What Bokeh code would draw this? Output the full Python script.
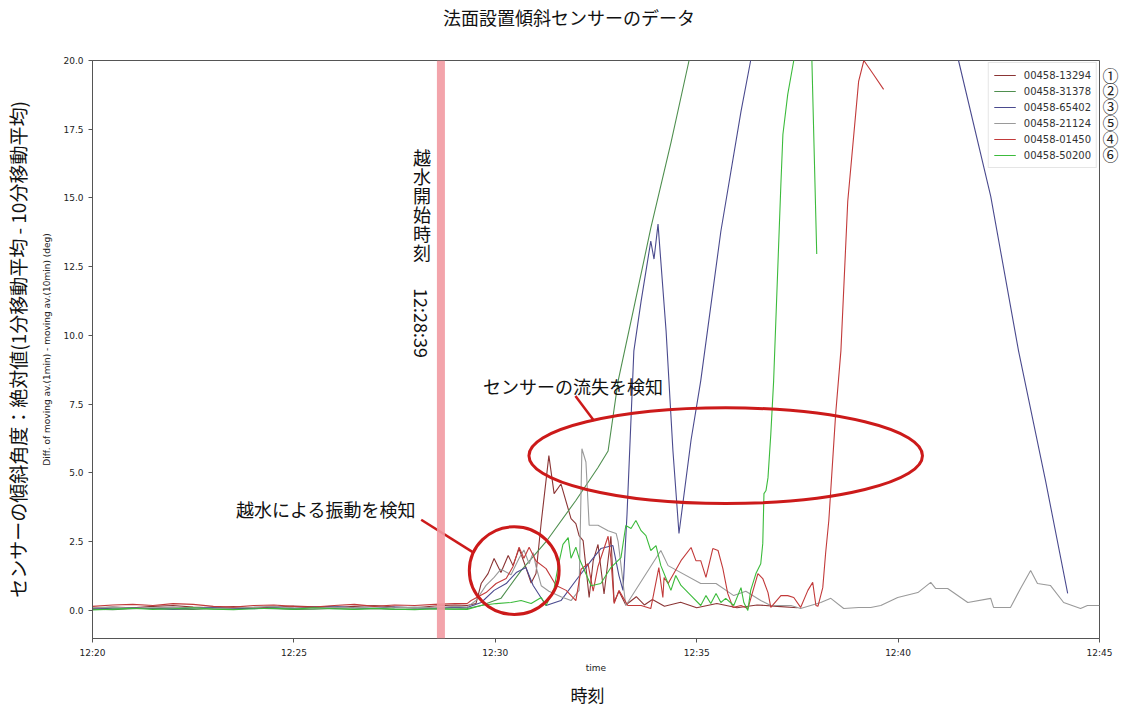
from bokeh.plotting import figure
from bokeh.models import Range1d, FixedTicker, NumeralTickFormatter, Span, Label, Legend, LinearAxis
from bokeh.embed import file_html
from bokeh.resources import INLINE
import math

# ---- data (minutes after 12:20) ----
FLAT_T = [0.0, 0.5, 1.0, 1.5, 2.0, 2.5, 3.0, 3.5, 4.0, 4.5, 5.0, 5.5, 6.0, 6.5, 7.0, 7.5, 8.0, 8.5, 9.0]

s13294_flat = [0.08, 0.12, 0.10, 0.15, 0.18, 0.12, 0.10, 0.14, 0.09, 0.12, 0.16, 0.13, 0.10, 0.15, 0.18, 0.12, 0.10, 0.16, 0.20]
s13294_t = [9.3, 9.52, 9.65, 9.82, 9.97, 10.14, 10.32, 10.44, 10.59, 10.76, 10.89, 11.01, 11.14, 11.33, 11.46, 11.63,
            11.88, 12.00, 12.08, 12.18, 12.33, 12.43, 12.55, 12.70, 12.87, 12.95, 13.07, 13.24, 13.5, 13.7, 13.9, 14.2,
            14.6, 15.0, 15.5, 16.0, 16.5, 17.0, 17.5]
s13294_v = [0.18, 0.25, 0.98, 1.34, 1.89, 1.38, 2.00, 1.63, 2.25, 1.56, 1.00, 1.34, 3.2, 5.63, 4.25, 4.6,
            3.34, 3.16, 2.72, 2.54, 0.47, 1.8, 2.4, 0.6, 2.7, 0.3, 0.7, 0.2, 0.5, 0.2, 0.4, 0.15,
            0.3, 0.1, 0.25, 0.1, 0.2, 0.15, 0.1]

s31378_flat = [0.05, 0.03, 0.06, 0.08, 0.05, 0.04, 0.06, 0.05, 0.08, 0.06, 0.04, 0.05, 0.07, 0.05, 0.06, 0.04, 0.05, 0.06, 0.05]
s31378_t = [9.3, 9.65, 10.14, 10.64, 11.26, 12.00, 12.55, 12.80, 13.05, 13.44, 13.86, 14.36, 14.81, 15.0]
s31378_v = [0.07, 0.18, 0.44, 1.45, 2.5, 4.0, 5.2, 5.8, 8.35, 11.0, 13.9, 17.0, 20.0, 26.0]

s65402_flat = [0.05, 0.08, 0.10, 0.06, 0.05, 0.09, 0.12, 0.08, 0.06, 0.10, 0.08, 0.12, 0.15, 0.10, 0.08, 0.12, 0.10, 0.08, 0.12]
s65402_t = [9.3, 9.65, 9.97, 10.27, 10.52, 10.76, 10.94, 11.26, 11.63, 12.00, 12.38, 12.62, 12.92, 13.07, 13.17,
            13.27, 13.44, 13.62, 13.86, 13.94, 14.04, 14.24, 14.41, 14.56, 14.86, 15.10, 15.60, 16.10, 16.34, 16.5,
            21.3, 21.50, 22.30, 22.99, 23.66, 24.21]
s65402_v = [0.11, 0.29, 0.73, 0.98, 1.38, 1.56, 0.91, 0.18, 0.36, 1.09, 1.81, 2.25, 2.36, 1.27, 0.73,
            3.5, 9.44, 11.25, 13.43, 12.78, 14.05, 10.16, 5.81, 2.8, 6.2, 8.35, 13.79, 18.15, 20.0, 28.0,
            28.0, 20.0, 15.06, 9.44, 4.72, 0.62]

s21124_flat = [0.10, 0.12, 0.08, 0.10, 0.12, 0.10, 0.08, 0.10, 0.12, 0.15, 0.10, 0.08, 0.12, 0.10, 0.15, 0.10, 0.12, 0.10, 0.15]
s21124_t = [9.3, 9.52, 9.77, 9.97, 10.14, 10.39, 10.59, 10.71, 10.84, 10.94, 11.01, 11.14, 11.33, 11.63, 11.88,
            12.08, 12.15, 12.25, 12.33, 12.55, 12.80, 13.00, 13.05, 13.24, 14.11, 14.29, 15.10, 15.48, 15.92, 16.22,
            16.59, 16.84, 17.34, 17.58, 18.08, 18.33, 18.65, 19.02, 19.32, 19.57, 19.99, 20.49, 20.81, 20.93, 21.23,
            21.73, 22.30, 22.37, 22.79, 23.04, 23.29, 23.46, 23.78, 24.11, 24.53, 24.70, 25.0]
s21124_v = [0.12, 0.36, 0.91, 1.2, 1.5, 1.3, 1.9, 2.2, 1.7, 2.1, 1.6, 0.9, 0.7, 0.5, 0.36,
            0.73, 5.88, 5.4, 3.1, 3.1, 2.9, 2.8, 2.5, 0.18, 2.18, 1.63, 0.98, 0.98, 0.54, 0.7,
            0.36, 0.18, 0.18, 0.07, 0.29, 0.44, 0.07, 0.11, 0.11, 0.18, 0.47, 0.65, 1.02, 0.8, 0.80,
            0.29, 0.44, 0.11, 0.11, 0.80, 1.45, 0.98, 0.91, 0.29, 0.07, 0.18, 0.18]

s01450_flat = [0.15, 0.20, 0.22, 0.18, 0.25, 0.22, 0.15, 0.12, 0.18, 0.20, 0.15, 0.12, 0.18, 0.22, 0.15, 0.20, 0.18, 0.22, 0.25]
s01450_t = [9.3, 9.4, 9.77, 10.02, 10.27, 10.44, 10.59, 10.71, 10.84, 11.01, 11.26, 11.51, 11.76, 12.00, 12.13,
            12.30, 12.43, 12.55, 12.80, 12.87, 12.95, 13.07, 13.29, 13.62, 13.86, 14.06, 14.16, 14.19, 14.29, 14.61,
            14.86, 14.98, 15.10, 15.23, 15.40, 15.53, 15.65, 15.77, 15.90, 16.10, 16.27, 16.52, 16.64, 16.77, 16.84,
            17.09, 17.26, 17.41, 17.58, 17.76, 17.88, 17.96, 18.01, 18.13, 18.20, 18.28, 18.45, 18.58, 18.75, 19.02,
            19.15, 19.39, 19.64]
s01450_v = [0.25, 0.36, 0.65, 0.98, 1.16, 1.6, 2.3, 1.9, 2.3, 1.8, 1.52, 0.91, 0.73, 0.36, 1.5,
            1.7, 0.7, 1.6, 2.7, 1.89, 0.25, 0.73, 0.18, 0.18, 0.07, 1.56, 0.47, 1.20, 0.98, 1.81,
            2.29, 1.81, 1.81, 1.20, 2.25, 2.18, 1.52, 0.62, 0.11, 0.18, 0.07, 1.34, 1.16, 0.65, 0.11,
            0.54, 0.54, 0.47, 0.11, 0.73, 1.02, 0.18, 0.15, 0.83, 2.07, 3.27, 7.15, 9.44, 14.88, 19.24,
            20.0, 19.49, 18.95]

s50200_flat = [0.02, 0.05, 0.08, 0.04, 0.06, 0.10, 0.05, 0.03, 0.06, 0.08, 0.05, 0.10, 0.06, 0.04, 0.08, 0.05, 0.03, 0.06, 0.05]
s50200_t = [9.3, 9.65, 10.02, 10.39, 10.64, 10.89, 11.14, 11.26, 11.46, 11.56, 11.68, 11.81, 11.88, 12.00, 12.08,
            12.20, 12.38, 12.62, 12.87, 13.12, 13.24, 13.37, 13.49, 13.62, 13.74, 13.86, 13.99, 14.11, 14.24, 14.36,
            14.48, 14.61, 14.86, 15.10, 15.23, 15.35, 15.48, 15.60, 15.72, 15.92, 16.10, 16.17, 16.27, 16.34, 16.47,
            16.59, 16.64, 16.67, 16.72, 16.77, 16.84, 16.91, 17.09, 17.14, 17.26, 17.41, 17.5, 17.80, 17.86, 17.98]
s50200_v = [0.04, 0.18, 0.25, 0.29, 0.36, 0.25, 0.47, 0.18, 0.8, 1.6, 2.4, 2.65, 1.9, 2.3, 1.9,
            1.5, 0.9, 0.98, 1.56, 1.92, 3.09, 2.98, 3.27, 2.90, 2.72, 2.18, 2.36, 1.63, 1.16, 0.73,
            1.27, 0.91, 0.54, 0.18, 0.54, 0.25, 0.62, 0.29, 0.44, 0.18, 0.83, 0.29, 0.0, 0.73, 1.34,
            1.70, 2.43, 4.25, 4.36, 4.83, 6.42, 8.35, 15.50, 17.31, 18.77, 20.0, 30.0, 30.0, 20.0, 12.96]

SERIES = [
    ("00458-13294", s13294_flat, s13294_t, s13294_v, "#8b3535"),
    ("00458-31378", s31378_flat, s31378_t, s31378_v, "#4f8f4f"),
    ("00458-65402", s65402_flat, s65402_t, s65402_v, "#4a4a8e"),
    ("00458-21124", s21124_flat, s21124_t, s21124_v, "#9a9a9a"),
    ("00458-01450", s01450_flat, s01450_t, s01450_v, "#c23a3a"),
    ("00458-50200", s50200_flat, s50200_t, s50200_v, "#3cbb3c"),
]
CIRCLED = ["①", "②", "③", "⑤", "④", "⑥"]
CIRCLED_Y = [19.49, 18.91, 18.33, 17.75, 17.17, 16.59]

X_TICKS = [0, 5, 10, 15, 20, 25]
X_TICK_LABELS = ["12:20", "12:25", "12:30", "12:35", "12:40", "12:45"]
Y_TICKS = [0.0, 2.5, 5.0, 7.5, 10.0, 12.5, 15.0, 17.5, 20.0]
START_T = 8.65  # 12:28:39

JP = "Noto Sans CJK JP"
LAT = "DejaVu Sans"

p = figure(width=1124, height=709, output_backend="svg", toolbar_location=None,
           x_range=Range1d(0, 25), y_range=Range1d(-1.02, 20.0),
           min_border_left=91, min_border_right=25, min_border_top=59, min_border_bottom=71)
p.background_fill_color = "white"
p.border_fill_color = "white"
p.outline_line_color = "#555555"
p.xgrid.visible = False
p.ygrid.visible = False

p.xaxis.ticker = FixedTicker(ticks=X_TICKS)
p.xaxis.major_label_overrides = {t: l for t, l in zip(X_TICKS, X_TICK_LABELS)}
p.xaxis.axis_label = "time"
p.yaxis.ticker = FixedTicker(ticks=Y_TICKS)
p.yaxis.formatter = NumeralTickFormatter(format="0.0")
p.yaxis.axis_label = "Diff. of moving av.(1min) - moving av.(10min) (deg)"
for ax in (p.xaxis, p.yaxis):
    ax.major_label_text_font = LAT
    ax.major_label_text_font_size = "9px"
    ax.major_label_text_color = "#222222"
    ax.axis_label_text_font = LAT
    ax.axis_label_text_font_size = "9px"
    ax.axis_label_text_font_style = "normal"
    ax.axis_label_text_color = "#222222"
    ax.minor_tick_line_color = None
    ax.major_tick_out = 4
    ax.major_tick_in = 0
    ax.axis_line_color = "#555555"
    ax.major_tick_line_color = "#555555"
p.xaxis.axis_label_standoff = 2
p.yaxis.axis_label_standoff = 8

# outer Japanese titles, drawn as tick-less axes
def plain_axis(label, size, standoff):
    a = LinearAxis(ticker=FixedTicker(ticks=[]), axis_label=label, axis_line_color=None,
                   major_tick_line_color=None, minor_tick_line_color=None,
                   major_label_text_font_size="0px")
    a.axis_label_text_font = JP
    a.axis_label_text_font_size = size
    a.axis_label_text_font_style = "normal"
    a.axis_label_text_color = "#111111"
    a.axis_label_standoff = standoff
    return a

p.add_layout(plain_axis("法面設置傾斜センサーのデータ\u3000\u3000\u3000", "18px", 31), "above")
p.add_layout(plain_axis("センサーの傾斜角度：絶対値(1分移動平均 - 10分移動平均)", "19px", 9), "left")
p.add_layout(plain_axis("時刻\u3000", "17px", 6), "below")

# circled sensor numbers beside the legend
ra = LinearAxis(ticker=FixedTicker(ticks=CIRCLED_Y), axis_line_color=None,
                major_tick_line_color=None, minor_tick_line_color=None)
ra.major_label_overrides = {y: c for y, c in zip(CIRCLED_Y, CIRCLED)}
ra.major_label_text_font = JP
ra.major_label_text_font_size = "16px"
ra.major_label_text_color = "#222222"
ra.major_label_standoff = 3
ra.major_tick_out = 0
ra.major_tick_in = 0
p.add_layout(ra, "right")

# water overflow start
p.add_layout(Span(location=START_T, dimension="height", line_color="#f29aa2", line_width=8, line_alpha=0.9))

items = []
for name, flat, t, v, col in SERIES:
    r = p.line(FLAT_T + t, flat + v, line_color=col, line_width=1.1)
    items.append((name, [r]))

legend = Legend(items=items, location="top_right", label_text_font=LAT, label_text_font_size="10px",
                glyph_height=14, glyph_width=22, label_height=14, label_standoff=8, spacing=2,
                padding=5, margin=2, border_line_color="#cccccc", background_fill_alpha=1.0,
                label_text_color="#333333")
p.add_layout(legend)

# annotations
red = "#cc1a1a"
p.ellipse(x=[15.72], y=[5.63], width=9.77, height=3.48, fill_color=None, line_color=red, line_width=3)
p.ellipse(x=[10.47], y=[1.45], width=2.23, height=3.19, fill_color=None, line_color=red, line_width=3)
p.line([11.99, 12.45], [7.80, 6.90], line_color=red, line_width=2.5)
p.line([8.16, 9.45], [3.30, 2.11], line_color=red, line_width=2.5)
p.add_layout(Label(x=11.93, y=8.17, text="センサーの流失を検知", text_font=JP, text_font_size="18px",
                   text_align="center", text_baseline="middle", text_color="#111111"))
p.add_layout(Label(x=5.80, y=3.70, text="越水による振動を検知", text_font=JP, text_font_size="18px",
                   text_align="center", text_baseline="middle", text_color="#111111"))

for i, ch in enumerate("越水開始時刻"):
    p.add_layout(Label(x=8.18, y=16.48 - i * 0.69, text=ch, text_font=JP, text_font_size="18px",
                       text_align="center", text_baseline="middle", text_color="#111111"))
p.add_layout(Label(x=8.18, y=10.45, text="12:28:39", angle=-math.pi / 2, text_font=JP, text_font_size="18px",
                   text_align="center", text_baseline="middle", text_color="#111111"))

open("out.html", "w").write(file_html(p, INLINE))
